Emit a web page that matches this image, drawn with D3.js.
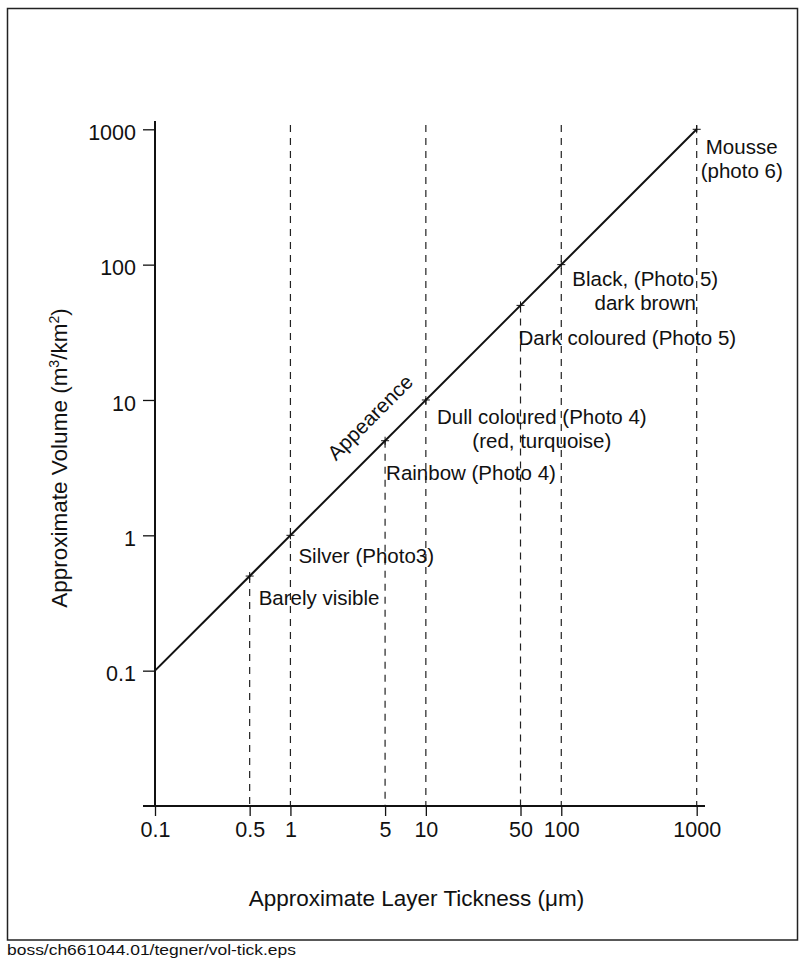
<!DOCTYPE html>
<html>
<head>
<meta charset="utf-8">
<script src="https://cdn.jsdelivr.net/npm/d3@7"></script>
<style>
  html, body { margin: 0; padding: 0; background: #fff; }
  svg { display: block; }
  text { font-family: "Liberation Sans", Arial, Helvetica, sans-serif; fill: #111; }
</style>
</head>
<body>
<svg id="chart" width="799" height="959"></svg>
<script>
// ---- data ----
const thickness = [0.5, 1, 5, 10, 50, 100, 1000];          // µm
const volume    = [0.5, 1, 5, 10, 50, 100, 1000];          // m3/km2
const fullGuide = [false, true, false, true, false, true, true];
const appearance = [
  ["Barely visible"],
  ["Silver (Photo3)"],
  ["Rainbow (Photo 4)"],
  ["Dull coloured (Photo 4)", "(red, turquoise)"],
  ["Dark coloured (Photo 5)"],
  ["Black, (Photo 5)", "dark brown"],
  ["Mousse", "(photo 6)"]
];
const lineThickness = [0.1, 1000];
const lineVolume    = [0.1, 1000];
const xTicks = [0.1, 0.5, 1, 5, 10, 50, 100, 1000];
const yTicks = [0.1, 1, 10, 100, 1000];
const xTitle = "Approximate Layer Tickness (\u03BCm)";
const lineTitle = "Appearence";
const footer = "boss/ch661044.01/tegner/vol-tick.eps";

// ---- layout (positions/styles) ----
const labelLayout = [
  {dx: 9,   dy: 29, anchor: "start"},
  {dx: 8,   dy: 28, anchor: "start"},
  {dx: 1,   dy: 39, anchor: "start"},
  {dx: 116, dy: 24, anchor: "middle"},
  {dx: -2,  dy: 40, anchor: "start"},
  {dx: 84,  dy: 21, anchor: "middle"},
  {dx: 45,  dy: 25, anchor: "middle"}
];
const lineHeight = 24;

const svg = d3.select("#chart");
const x = d3.scaleLog().domain([0.1, 1000]).range([155, 696.7]);
const y = d3.scaleLog().domain([0.01, 1000]).range([806, 129.3]);
const axisBottomY = 806, axisTopY = 121, axisLeftX = 155, axisRightX = 705;

// border
svg.append("rect")
  .attr("x", 7.5).attr("y", 8.5).attr("width", 790).attr("height", 931.5)
  .attr("fill", "none").attr("stroke", "#222").attr("stroke-width", 1.5);

// dashed guides
svg.append("g").selectAll("line").data(thickness).join("line")
  .attr("x1", d => x(d)).attr("x2", d => x(d))
  .attr("y1", (d, i) => fullGuide[i] ? 125 : y(volume[i]))
  .attr("y2", axisBottomY)
  .attr("stroke", "#222").attr("stroke-width", 1.2)
  .attr("stroke-dasharray", "7,6");

// axes
const xAxis = d3.axisBottom(x).tickValues(xTicks).tickFormat(d => String(d))
  .tickSize(10).tickSizeOuter(0).tickPadding(6);
const gx = svg.append("g").attr("transform", `translate(0,${axisBottomY})`).call(xAxis);
gx.select(".domain").remove();
gx.selectAll(".tick line").attr("stroke", "#111").attr("stroke-width", 1.3);
gx.selectAll(".tick text").attr("font-size", 21.5).attr("fill", "#111")
  .style("font-family", "'Liberation Sans', Arial, sans-serif");

const yAxis = d3.axisLeft(y).tickValues(yTicks).tickFormat(d => String(d))
  .tickSize(12).tickSizeOuter(0).tickPadding(7);
const gy = svg.append("g").attr("transform", `translate(${axisLeftX},0)`).call(yAxis);
gy.select(".domain").remove();
gy.selectAll(".tick line").attr("stroke", "#111").attr("stroke-width", 1.3);
gy.selectAll(".tick text").attr("font-size", 21.5).attr("fill", "#111").attr("dy", "0.47em")
  .style("font-family", "'Liberation Sans', Arial, sans-serif");

svg.append("line").attr("x1", 143).attr("x2", axisRightX)
  .attr("y1", axisBottomY).attr("y2", axisBottomY)
  .attr("stroke", "#111").attr("stroke-width", 2);
svg.append("line").attr("x1", axisLeftX).attr("x2", axisLeftX)
  .attr("y1", axisTopY).attr("y2", axisBottomY)
  .attr("stroke", "#111").attr("stroke-width", 2);

// main line
const lineData = lineThickness.map((t, i) => [t, lineVolume[i]]);
svg.append("path").datum(lineData)
  .attr("d", d3.line().x(d => x(d[0])).y(d => y(d[1])))
  .attr("fill", "none").attr("stroke", "#111").attr("stroke-width", 2);

// markers
const mk = svg.append("g").attr("stroke", "#111").attr("stroke-width", 1);
thickness.forEach((t, i) => {
  const px = x(t), py = y(volume[i]);
  mk.append("line").attr("x1", px - 4).attr("x2", px + 4).attr("y1", py).attr("y2", py);
  mk.append("line").attr("x1", px).attr("x2", px).attr("y1", py - 4).attr("y2", py + 4);
});

// annotations
thickness.forEach((t, i) => {
  const px = x(t), py = y(volume[i]), L = labelLayout[i];
  const tx = svg.append("text").attr("font-size", 20.5).attr("text-anchor", L.anchor);
  appearance[i].forEach((s, k) => {
    tx.append("tspan").attr("x", px + L.dx).attr("y", py + L.dy + k * lineHeight).text(s);
  });
});

// "Appearence" along line
{
  const a0 = [x(lineThickness[0]), y(lineVolume[0])];
  const a1 = [x(lineThickness[1]), y(lineVolume[1])];
  const ang = Math.atan2(a1[1] - a0[1], a1[0] - a0[0]) * 180 / Math.PI;
  const px = x(thickness[2]), py = y(volume[2]);
  svg.append("text")
    .attr("transform", `translate(${px},${py}) rotate(${ang})`)
    .attr("x", 6).attr("y", -20)
    .attr("text-anchor", "middle").attr("font-size", 20.5)
    .text(lineTitle);
}

// axis titles
svg.append("text").attr("x", 416.5).attr("y", 906).attr("text-anchor", "middle")
  .attr("font-size", 22.5).text(xTitle);

const yt = svg.append("text")
  .attr("transform", "translate(67,458) rotate(-90)")
  .attr("text-anchor", "middle").attr("font-size", 22.5);
yt.append("tspan").text("Approximate Volume (m");
yt.append("tspan").attr("dy", -8).attr("font-size", 14).text("3");
yt.append("tspan").attr("dy", 8).text("/km");
yt.append("tspan").attr("dy", -8).attr("font-size", 14).text("2");
yt.append("tspan").attr("dy", 8).text(")");

// footer
svg.append("text").attr("x", 7).attr("y", 955).attr("font-size", 14.5)
  .attr("textLength", 289).attr("lengthAdjust", "spacingAndGlyphs")
  .text(footer);
</script>
</body>
</html>
